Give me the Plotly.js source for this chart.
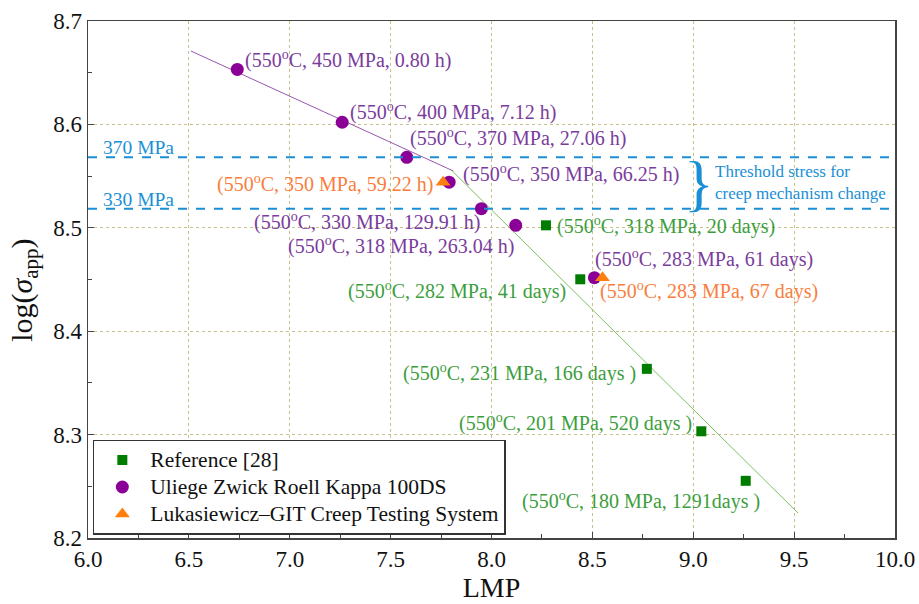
<!DOCTYPE html>
<html>
<head>
<meta charset="utf-8">
<script src="https://cdn.plot.ly/plotly-3.0.1.min.js"></script>
<style>html,body{margin:0;padding:0;background:#fff;}#chart{width:919px;height:604px;}</style>
</head>
<body>
<div id="chart"></div>
<script>
// ---- data ----
var refLMP = [8.27, 8.44, 8.77, 9.04, 9.26];
var refLog = [8.5024, 8.4502, 8.3636, 8.3032, 8.2553];
var uliegeLMP = [6.74, 7.26, 7.58, 7.79, 7.95, 8.12, 8.51];
var uliegeLog = [8.6532, 8.6021, 8.5682, 8.5441, 8.5185, 8.5024, 8.4518];
var lukLMP = [7.76, 8.55];
var lukLog = [8.5441, 8.4518];
var fitHighX = [6.51, 7.81];
var fitHighY = [8.671, 8.555];
var fitLowX = [7.80, 9.52];
var fitLowY = [8.556, 8.224];
var thresholdLog = [8.5682, 8.5185];
var thresholdLabels = ["370 MPa", "330 MPa"];
var seriesNames = ["Reference [28]", "Uliege Zwick Roell Kappa 100DS", "Lukasiewicz–GIT Creep Testing System"];
var xRange = [6.0, 10.0];
var yRange = [8.2, 8.7];
var xTicks = [6.0, 6.5, 7.0, 7.5, 8.0, 8.5, 9.0, 9.5, 10.0];
var yTicks = [8.2, 8.3, 8.4, 8.5, 8.6, 8.7];

// label texts and anchor positions (data coords)
var uliegeLabels = [
  ["(550<sup>o</sup>C, 450 MPa, 0.80 h)", 6.768, 8.663, "left"],
  ["(550<sup>o</sup>C, 400 MPa, 7.12 h)", 7.289, 8.612, "left"],
  ["(550<sup>o</sup>C, 370 MPa, 27.06 h)", 7.586, 8.587, "left"],
  ["(550<sup>o</sup>C, 350 MPa, 66.25 h)", 7.849, 8.553, "left"],
  ["(550<sup>o</sup>C, 330 MPa, 129.91 h)", 7.953, 8.506, "right"],
  ["(550<sup>o</sup>C, 318 MPa, 263.04 h)", 8.121, 8.483, "right"],
  ["(550<sup>o</sup>C, 283 MPa, 61 days)", 8.503, 8.470, "left"]
];
var lukLabels = [
  ["(550<sup>o</sup>C, 350 MPa, 59.22 h)", 7.720, 8.543, "right"],
  ["(550<sup>o</sup>C, 283 MPa, 67 days)", 8.528, 8.439, "left"]
];
var refLabels = [
  ["(550<sup>o</sup>C, 318 MPa, 20 days)", 8.315, 8.502, "left"],
  ["(550<sup>o</sup>C, 282 MPa, 41 days)", 8.379, 8.439, "right"],
  ["(550<sup>o</sup>C, 231 MPa, 166 days )", 8.726, 8.360, "right"],
  ["(550<sup>o</sup>C, 201 MPa, 520 days )", 9.004, 8.312, "right"],
  ["(550<sup>o</sup>C, 180 MPa, 1291days )", 8.141, 8.236, "left"]
];

var serif = "'Liberation Serif', 'Times New Roman', serif";
var cGreen = "#007d00", cGreenText = "#3b9e3b", cGreenLine = "#7fbf5f";
var cPurple = "#8a0096", cPurpleText = "#7a3c9c", cPurpleLine = "#9a55b0";
var cOrange = "#ff7f0e", cOrangeText = "#fa7d3c";
var cBlue = "#1a8fd6";

function legName(s) { return "<span style='font-size:21.5px'>" + s + "</span>"; }

var traces = [
  {x: fitHighX, y: fitHighY, mode: "lines", line: {color: cPurpleLine, width: 1}, showlegend: false, hoverinfo: "skip"},
  {x: fitLowX, y: fitLowY, mode: "lines", line: {color: cGreenLine, width: 1}, showlegend: false, hoverinfo: "skip"},
  {x: refLMP, y: refLog, mode: "markers", name: legName(seriesNames[0]), marker: {symbol: "square", size: 10, color: cGreen}},
  {x: uliegeLMP, y: uliegeLog, mode: "markers", name: legName(seriesNames[1]), marker: {symbol: "circle", size: 13, color: cPurple}},
  {x: lukLMP, y: lukLog, mode: "markers", name: legName(seriesNames[2]), marker: {symbol: "triangle-up", size: 13, color: cOrange}}
];

var shapes = thresholdLog.map(function (v) {
  return {type: "line", xref: "x", yref: "y", x0: xRange[0], x1: xRange[1], y0: v, y1: v,
          line: {color: cBlue, width: 2, dash: "dash"}};
});

var annotations = [];
function addLabels(arr, color) {
  arr.forEach(function (a) {
    annotations.push({x: a[1], y: a[2], xref: "x", yref: "y", text: a[0], showarrow: false,
      xanchor: a[3], yanchor: "middle", font: {family: serif, size: 20, color: color}});
  });
}
addLabels(uliegeLabels, cPurpleText);
addLabels(lukLabels, cOrangeText);
addLabels(refLabels, cGreenText);
thresholdLabels.forEach(function (t, i) {
  annotations.push({x: 6.065, y: thresholdLog[i], xref: "x", yref: "y", text: t, showarrow: false,
    xanchor: "left", yanchor: "bottom", yshift: -3, font: {family: serif, size: 19.5, color: cBlue}});
});
annotations.push({x: 9.03, y: (thresholdLog[0] + thresholdLog[1]) / 2, xref: "x", yref: "y", text: "}",
  showarrow: false, xanchor: "center", yanchor: "middle",
  font: {family: serif, size: 62, color: cBlue}});
annotations.push({x: 9.1, y: (thresholdLog[0] + thresholdLog[1]) / 2, xref: "x", yref: "y",
  text: "Threshold stress for<br>creep mechanism change", align: "left", showarrow: false,
  xanchor: "left", yanchor: "middle", font: {family: serif, size: 17, color: cBlue}});
// y-axis title
annotations.push({x: 0, y: 0.478, xref: "paper", yref: "paper", xanchor: "center", yanchor: "middle",
  xshift: -64, textangle: -90, showarrow: false, text: "log(<i>σ</i><sub>app</sub>)",
  font: {family: serif, size: 30, color: "#111"}});

var axisCommon = {
  showline: true, linecolor: "#444", linewidth: 1.5, mirror: true,
  showgrid: true, gridcolor: "#c8c08a", griddash: "dot", gridwidth: 1,
  zeroline: false, ticks: "inside", ticklen: 6, tickcolor: "#444",
  tickfont: {family: serif, size: 23, color: "#111"}
};

var layout = {
  width: 919, height: 604,
  margin: {l: 88, r: 24, t: 21, b: 66},
  paper_bgcolor: "#fff", plot_bgcolor: "#fff",
  showlegend: true,
  legend: {x: 0.006, y: 0.006, xanchor: "left", yanchor: "bottom", bordercolor: "#333", borderwidth: 1.5,
           bgcolor: "#fff", font: {family: serif, size: 18.5, color: "#111"}, tracegroupgap: 0, itemwidth: 46},
  xaxis: Object.assign({}, axisCommon, {range: xRange, tickvals: xTicks, ticktext: xTicks.map(function(v){return v.toFixed(1);}),
    minor: {dtick: 0.25, ticks: "inside", ticklen: 4, tickcolor: "#444", showgrid: false},
    title: {text: "LMP", font: {family: serif, size: 28, color: "#111"}, standoff: 6}}),
  yaxis: Object.assign({}, axisCommon, {range: yRange, tickvals: yTicks, ticktext: yTicks.map(function(v){return v.toFixed(1);}),
    minor: {dtick: 0.05, ticks: "inside", ticklen: 4, tickcolor: "#444", showgrid: false}}),
  shapes: shapes,
  annotations: annotations
};

Plotly.newPlot("chart", traces, layout, {displayModeBar: false, staticPlot: true});
</script>
</body>
</html>
